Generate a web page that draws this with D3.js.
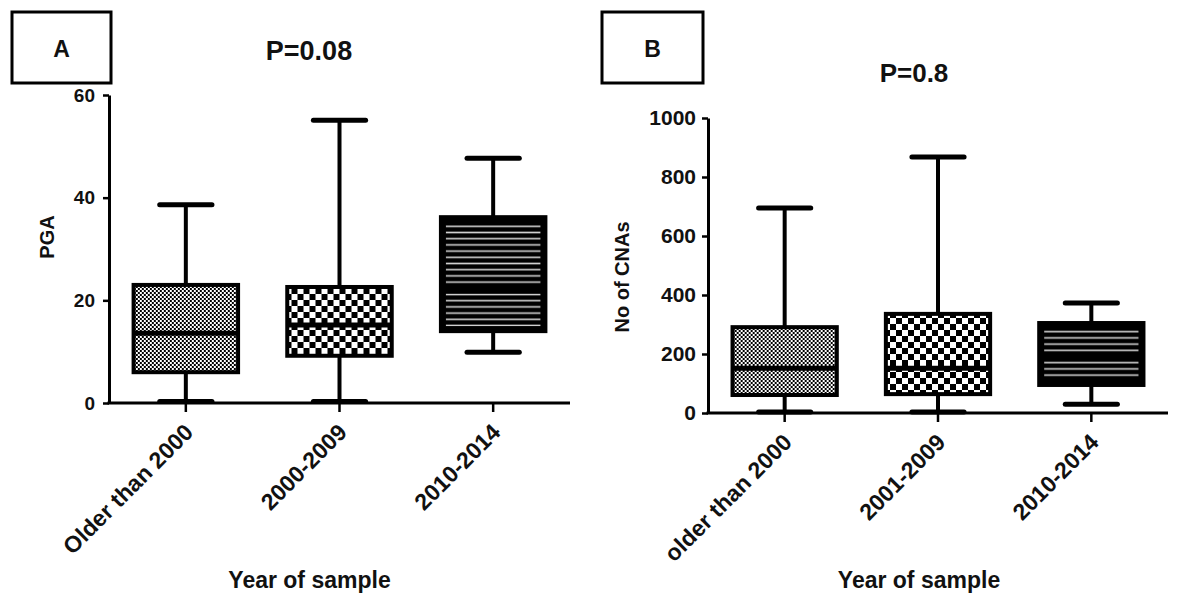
<!DOCTYPE html>
<html>
<head>
<meta charset="utf-8">
<script src="https://cdn.jsdelivr.net/npm/d3@7"></script>
<style>
  body { margin: 0; background: #fff; }
  svg { display: block; }
  text { font-family: "Liberation Sans", Arial, Helvetica, sans-serif; fill: #111; }
</style>
</head>
<body>
<svg id="chart" width="1186" height="597"></svg>
<script>
// Panel A: percent genome altered (PGA) by year of sample
const pgaCategories = ["Older than 2000", "2000-2009", "2010-2014"];
const pgaMin    = [0.3, 0.3, 9.9];
const pgaQ1     = [6.0, 9.2, 14.0];
const pgaMedian = [13.6, 15.2, 22.0];
const pgaQ3     = [23.0, 22.6, 36.2];
const pgaMax    = [38.6, 55.1, 47.7];
const pgaTicks  = [0, 20, 40, 60];

// Panel B: number of copy-number alterations by year of sample
const cnaCategories = ["older than 2000", "2001-2009", "2010-2014"];
const cnaMin    = [3, 3, 30];
const cnaQ1     = [61, 64, 95];
const cnaMedian = [152, 152, 190];
const cnaQ3     = [291, 336, 305];
const cnaMax    = [695, 868, 373];
const cnaTicks  = [0, 200, 400, 600, 800, 1000];

const fillKinds = ["fine", "coarse", "stripes"];

const svg = d3.select("#chart");
const defs = svg.append("defs");

// fine checkerboard
const pFine = defs.append("pattern").attr("id", "fine")
  .attr("patternUnits", "userSpaceOnUse").attr("width", 4).attr("height", 4);
pFine.append("rect").attr("width", 4).attr("height", 4).attr("fill", "#fff");
pFine.append("rect").attr("width", 2).attr("height", 2).attr("fill", "#000");
pFine.append("rect").attr("x", 2).attr("y", 2).attr("width", 2).attr("height", 2).attr("fill", "#000");

// coarse checkerboard
const pCoarse = defs.append("pattern").attr("id", "coarse")
  .attr("patternUnits", "userSpaceOnUse").attr("width", 12).attr("height", 12);
pCoarse.append("rect").attr("width", 12).attr("height", 12).attr("fill", "#fff");
pCoarse.append("rect").attr("width", 6).attr("height", 6).attr("fill", "#000");
pCoarse.append("rect").attr("x", 6).attr("y", 6).attr("width", 6).attr("height", 6).attr("fill", "#000");

// horizontal stripes on black
const pStripes = defs.append("pattern").attr("id", "stripes")
  .attr("patternUnits", "userSpaceOnUse").attr("width", 8).attr("height", 6.2);
pStripes.append("rect").attr("width", 8).attr("height", 6.2).attr("fill", "#000");
pStripes.append("rect").attr("y", 2.3).attr("width", 8).attr("height", 1.6).attr("fill", "#cfcfcf");

function drawPanel(cfg) {
  const x = d3.scaleBand().domain(cfg.categories).range(cfg.xRange).padding(0);
  const y = d3.scaleLinear().domain([0, cfg.ticks[cfg.ticks.length - 1]]).range(cfg.yRange);
  const g = svg.append("g");

  const rows = cfg.categories.map((c, i) => ({
    cat: c, min: cfg.min[i], q1: cfg.q1[i], med: cfg.median[i],
    q3: cfg.q3[i], max: cfg.max[i], kind: fillKinds[i]
  }));

  const bw = x.bandwidth() * 0.68;
  const cw = x.bandwidth() * 0.34;
  const boxes = g.selectAll("g.box").data(rows).join("g").attr("class", "box")
    .attr("transform", d => `translate(${x(d.cat) + x.bandwidth() / 2},0)`);

  // whiskers
  boxes.append("line").attr("x1", 0).attr("x2", 0)
    .attr("y1", d => y(d.max)).attr("y2", d => y(d.q3))
    .attr("stroke", "#000").attr("stroke-width", 4);
  boxes.append("line").attr("x1", 0).attr("x2", 0)
    .attr("y1", d => y(d.q1)).attr("y2", d => y(d.min))
    .attr("stroke", "#000").attr("stroke-width", 4);
  // caps
  [d => d.max, d => d.min].forEach(acc => {
    boxes.append("line").attr("x1", -cw / 2).attr("x2", cw / 2)
      .attr("y1", d => y(acc(d))).attr("y2", d => y(acc(d)))
      .attr("stroke", "#000").attr("stroke-width", 5).attr("stroke-linecap", "round");
  });

  // box body
  boxes.append("rect")
    .attr("x", -bw / 2).attr("width", bw)
    .attr("y", d => y(d.q3)).attr("height", d => y(d.q1) - y(d.q3))
    .attr("fill", d => d.kind === "stripes" ? "#000" : `url(#${d.kind})`)
    .attr("stroke", "#000").attr("stroke-width", 4);
  boxes.filter(d => d.kind === "stripes").append("rect")
    .attr("x", -bw / 2 + 5).attr("width", bw - 10)
    .attr("y", d => y(d.q3) + 5).attr("height", d => y(d.q1) - y(d.q3) - 10)
    .attr("fill", "url(#stripes)");
  // median
  boxes.append("line").attr("x1", -bw / 2).attr("x2", bw / 2)
    .attr("y1", d => y(d.med)).attr("y2", d => y(d.med))
    .attr("stroke", "#000").attr("stroke-width", d => d.kind === "stripes" ? 7 : 5);

  // axes
  const yAxis = g.append("g").attr("transform", `translate(${cfg.xRange[0]},0)`)
    .call(d3.axisLeft(y).tickValues(cfg.ticks).tickSize(6).tickSizeOuter(0)
      .tickPadding(cfg.tickPad).tickFormat(d3.format("d")));
  yAxis.select(".domain").attr("stroke", "#000").attr("stroke-width", 3);
  yAxis.selectAll(".tick line").attr("stroke", "#000").attr("stroke-width", 2.5);
  yAxis.selectAll(".tick text").attr("font-size", cfg.tickFont).attr("font-weight", "bold")
    .attr("fill", "#111");

  const xAxis = g.append("g").attr("transform", `translate(0,${cfg.yRange[0]})`)
    .call(d3.axisBottom(x).tickSize(9).tickSizeOuter(0));
  xAxis.select(".domain").attr("stroke", "#000").attr("stroke-width", 3)
    .attr("d", `M${cfg.xRange[0] - 1.5},0H${cfg.xRange[1]}`);
  xAxis.selectAll(".tick line").attr("stroke", "#000").attr("stroke-width", 2.5);
  xAxis.selectAll(".tick text")
    .attr("font-size", cfg.catFont).attr("font-weight", "bold").attr("fill", "#111")
    .attr("text-anchor", "end").attr("x", 0).attr("y", 0).attr("dy", "0.35em")
    .attr("transform", "translate(3,25) rotate(-45)");

  // axis titles
  g.append("text").attr("transform", `translate(${cfg.yTitleX},${cfg.yTitleY}) rotate(-90)`)
    .attr("text-anchor", "middle").style("font-size", cfg.yTitleFont + "px")
    .attr("font-weight", "bold").text(cfg.yTitle);
  g.append("text").attr("x", (cfg.xRange[0] + cfg.xRange[1]) / 2 + cfg.xTitleShift).attr("y", 588)
    .attr("text-anchor", "middle").attr("font-size", 23).attr("font-weight", "bold")
    .text("Year of sample");

  // panel letter box and P value
  g.append("rect").attr("x", cfg.letterBox[0]).attr("y", 12)
    .attr("width", cfg.letterBox[1]).attr("height", 71)
    .attr("fill", "#fff").attr("stroke", "#000").attr("stroke-width", 3);
  g.append("text").attr("x", cfg.letterBox[0] + cfg.letterBox[1] / 2).attr("y", 57)
    .attr("text-anchor", "middle").attr("font-size", 23).attr("font-weight", "bold")
    .text(cfg.letter);
  g.append("text").attr("x", cfg.pX).attr("y", cfg.pY)
    .attr("text-anchor", "middle").attr("font-size", cfg.pFont).attr("font-weight", "bold")
    .text(cfg.pText);
}

drawPanel({
  categories: pgaCategories, min: pgaMin, q1: pgaQ1, median: pgaMedian, q3: pgaQ3, max: pgaMax,
  ticks: pgaTicks, xRange: [109, 570], yRange: [403, 95], tickPad: 8, tickFont: 19, catFont: 23,
  yTitle: "PGA", yTitleX: 54, yTitleY: 237, yTitleFont: 20, xTitleShift: -30,
  letter: "A", letterBox: [12, 99], pText: "P=0.08", pX: 309, pY: 60, pFont: 27
});

drawPanel({
  categories: cnaCategories, min: cnaMin, q1: cnaQ1, median: cnaMedian, q3: cnaQ3, max: cnaMax,
  ticks: cnaTicks, xRange: [708, 1168], yRange: [413, 118], tickPad: 6, tickFont: 21, catFont: 23,
  yTitle: "No of CNAs", yTitleX: 629, yTitleY: 277, yTitleFont: 20, xTitleShift: -19,
  letter: "B", letterBox: [602, 101], pText: "P=0.8", pX: 914, pY: 82, pFont: 26
});
</script>
</body>
</html>
